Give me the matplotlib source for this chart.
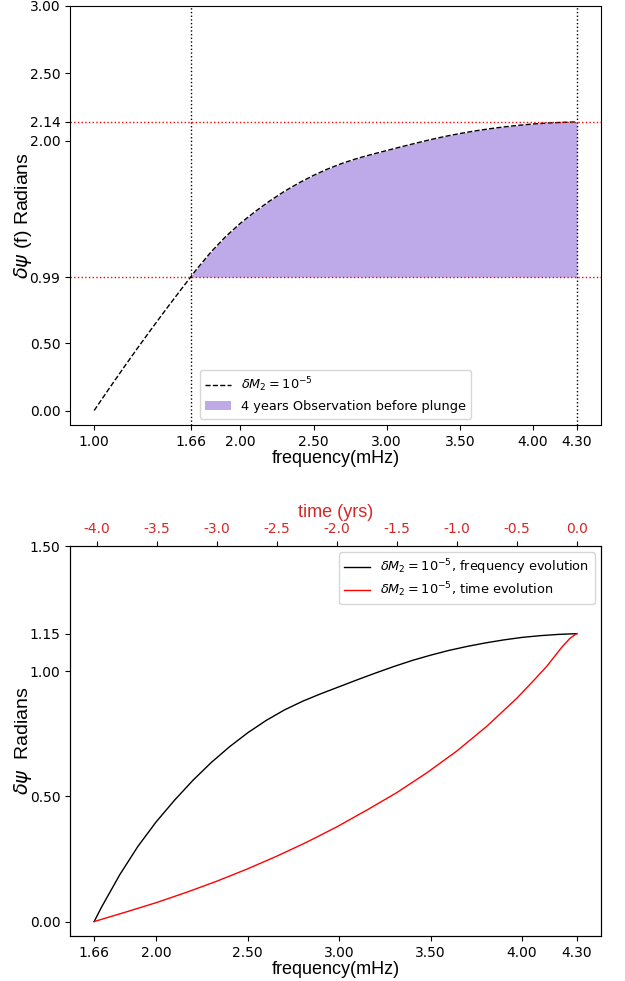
import numpy as np
import matplotlib
matplotlib.use("Agg")
import matplotlib.pyplot as plt

# phase shift vs GW frequency, full band
freq_full = [1.00, 1.10, 1.20, 1.30, 1.40, 1.50, 1.60, 1.66, 1.70, 1.80,
             1.90, 2.00, 2.10, 2.20, 2.30, 2.40, 2.50, 2.60, 2.70, 2.80,
             2.90, 3.00, 3.10, 3.20, 3.30, 3.40, 3.50, 3.60, 3.70, 3.80,
             3.90, 4.00, 4.10, 4.20, 4.30]
psi_full = [0.000, 0.159, 0.315, 0.468, 0.617, 0.763, 0.906, 0.990, 1.047,
            1.177, 1.291, 1.389, 1.475, 1.554, 1.625, 1.688, 1.744, 1.793,
            1.835, 1.870, 1.900, 1.928, 1.956, 1.983, 2.009, 2.033, 2.054,
            2.073, 2.089, 2.103, 2.115, 2.125, 2.132, 2.137, 2.140]

# last 4 years before plunge
f_obs_start = 1.66
f_plunge = 4.30
psi_obs_start = 0.99
psi_plunge = 2.14

# accumulated phase over the observation window, vs frequency
freq_obs = [1.66, 1.70, 1.80, 1.90, 2.00, 2.10, 2.20, 2.30, 2.40, 2.50,
            2.60, 2.70, 2.80, 2.90, 3.00, 3.10, 3.20, 3.30, 3.40, 3.50,
            3.60, 3.70, 3.80, 3.90, 4.00, 4.10, 4.20, 4.30]
psi_freq = [0.000, 0.057, 0.187, 0.301, 0.399, 0.485, 0.564, 0.635, 0.698,
            0.754, 0.803, 0.845, 0.880, 0.910, 0.938, 0.966, 0.993, 1.019,
            1.043, 1.064, 1.083, 1.099, 1.113, 1.125, 1.135, 1.142, 1.147,
            1.150]

# same quantity vs time to plunge
time_yrs = [-4.02, -3.75, -3.50, -3.25, -3.00, -2.75, -2.50, -2.25, -2.00,
            -1.75, -1.50, -1.25, -1.00, -0.75, -0.50, -0.375, -0.25, -0.125,
            -0.06, -0.03, 0.0]
psi_time = [0.000, 0.039, 0.076, 0.117, 0.161, 0.209, 0.261, 0.317, 0.378,
            0.445, 0.515, 0.594, 0.681, 0.780, 0.892, 0.955, 1.020, 1.096,
            1.130, 1.141, 1.150]

top_xticks = [1.00, 1.66, 2.00, 2.50, 3.00, 3.50, 4.00, 4.30]
top_yticks = [0.00, 0.50, 0.99, 2.00, 2.14, 2.50, 3.00]
bot_xticks = [1.66, 2.00, 2.50, 3.00, 3.50, 4.00, 4.30]
bot_yticks = [0.00, 0.50, 1.00, 1.15, 1.50]
time_ticks = [-4.0, -3.5, -3.0, -2.5, -2.0, -1.5, -1.0, -0.5, 0.0]

xlabel_font = dict(family="Liberation Sans", size=13)
ylabel_font = dict(family="Liberation Sans", size=14)

fig = plt.figure(figsize=(6.25, 9.81), dpi=100)
ax1 = fig.add_axes([0.112, 0.5668, 0.8496, 0.4271])
ax3 = fig.add_axes([0.112, 0.0459, 0.8496, 0.3975])

# --- top panel ---
ax1.plot(freq_full, psi_full, 'k--', lw=1, label=r'$\delta M_2 = 10^{-5}$')
f_arr = np.array(freq_full)
p_arr = np.array(psi_full)
mask = f_arr >= f_obs_start
ax1.fill_between(f_arr[mask], psi_obs_start, p_arr[mask], color='mediumpurple',
                 alpha=0.6, lw=0, label='4 years Observation before plunge')
ax1.axvline(f_obs_start, color='k', ls=':', lw=1)
ax1.axvline(f_plunge, color='k', ls=':', lw=1)
ax1.axhline(psi_obs_start, color='r', ls=':', lw=1)
ax1.axhline(psi_plunge, color='r', ls=':', lw=1)
ax1.set_xticks(top_xticks)
ax1.set_xticklabels(['%.2f' % v for v in top_xticks])
ax1.set_yticks(top_yticks)
ax1.set_yticklabels(['%.2f' % v for v in top_yticks])
ax1.set_ylim(top=3.0)
ax1.tick_params(labelsize=10)
ax1.set_xlabel('frequency(mHz)', fontdict=xlabel_font, labelpad=1)
ax1.set_ylabel(r'$\delta\psi$ (f) Radians', fontdict=ylabel_font)
ax1.yaxis.set_label_coords(-0.067, 0.5)
ax1.legend(loc='lower center', fontsize=9.3)

# --- bottom panel ---
ax3.plot(freq_obs, psi_freq, 'k-', lw=1,
         label=r'$\delta M_2 = 10^{-5}$, frequency evolution')
ax4 = ax3.twiny()
ax4.plot(time_yrs, psi_time, 'r-', lw=1,
         label=r'$\delta M_2 = 10^{-5}$, time evolution')
ax3.set_xticks(bot_xticks)
ax3.set_xticklabels(['%.2f' % v for v in bot_xticks])
ax3.set_yticks(bot_yticks)
ax3.set_yticklabels(['%.2f' % v for v in bot_yticks])
ax3.set_ylim(top=1.5)
ax3.tick_params(labelsize=10)
ax3.set_xlabel('frequency(mHz)', fontdict=xlabel_font, labelpad=1)
ax3.set_ylabel(r'$\delta\psi$  Radians', fontdict=ylabel_font)
ax3.yaxis.set_label_coords(-0.068, 0.5)
ax4.set_xticks(time_ticks)
ax4.set_xticklabels(['%.1f' % v for v in time_ticks])
ax4.tick_params(labelsize=10, labelcolor='tab:red')
ax4.set_xlabel('time (yrs)', color='tab:red', fontdict=xlabel_font)

h1, l1 = ax3.get_legend_handles_labels()
h2, l2 = ax4.get_legend_handles_labels()
ax4.legend(h1 + h2, l1 + l2, loc='upper right', fontsize=9.3,
           labelspacing=0.25)

fig.savefig('out.png', dpi=100)
